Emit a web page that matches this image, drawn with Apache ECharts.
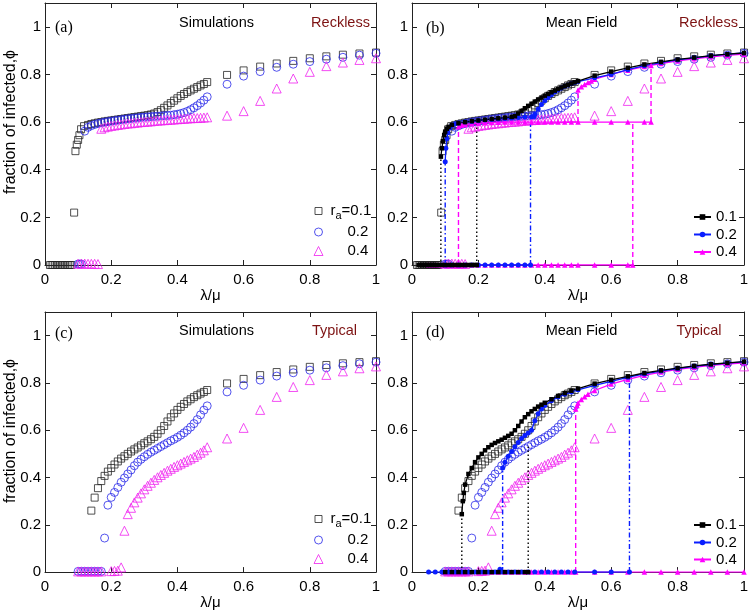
<!DOCTYPE html>
<html><head><meta charset="utf-8">
<script src="https://cdn.jsdelivr.net/npm/echarts@6/dist/echarts.min.js"></script>
<style>html,body{margin:0;padding:0;background:#fff}#c{width:752px;height:611px}</style>
</head><body><div id="c"></div>
<script>
// ---------------- DATA ----------------
// Simulations, Reckless (panels a, b)
const simR1 = [[0.015,0],[0.02,0],[0.025,0],[0.03,0],[0.035,0],[0.04,0],[0.045,0],[0.05,0],[0.055,0],[0.06,0],[0.065,0],[0.07,0],[0.075,0],[0.08,0],
 [0.088,0.22],[0.092,0.478],[0.096,0.505],[0.1,0.525],[0.104,0.545],[0.109,0.57],[0.118,0.583],[0.13,0.588],[0.14,0.592],[0.15,0.595],[0.16,0.598],[0.17,0.6],[0.18,0.603],[0.19,0.605],[0.2,0.607],[0.21,0.609],[0.22,0.611],[0.23,0.613],[0.24,0.615],[0.25,0.617],[0.26,0.619],[0.27,0.621],[0.28,0.623],[0.29,0.625],[0.3,0.627],[0.31,0.629],[0.32,0.632],[0.33,0.636],[0.34,0.642],[0.35,0.65],[0.36,0.66],[0.37,0.67],[0.38,0.68],[0.39,0.69],[0.4,0.7],[0.41,0.71],[0.42,0.718],[0.43,0.726],[0.44,0.733],[0.45,0.74],[0.46,0.747],[0.47,0.754],[0.48,0.76],[0.49,0.768],
 [0.55,0.798],[0.6,0.817],[0.65,0.833],[0.7,0.846],[0.75,0.857],[0.8,0.868],[0.85,0.876],[0.9,0.883],[0.95,0.888],[1.0,0.892]];
const simR2 = [[0.1,0.004],[0.105,0.004],[0.11,0.004],
 [0.12,0.562],[0.13,0.578],[0.14,0.585],[0.15,0.59],[0.16,0.594],[0.17,0.597],[0.18,0.6],[0.19,0.602],[0.2,0.604],[0.21,0.606],[0.22,0.608],[0.23,0.61],[0.24,0.612],[0.25,0.614],[0.26,0.615],[0.27,0.617],[0.28,0.618],[0.29,0.62],[0.3,0.621],[0.31,0.622],[0.32,0.623],[0.33,0.624],[0.34,0.625],[0.35,0.626],[0.36,0.627],[0.37,0.628],[0.38,0.629],[0.39,0.631],[0.4,0.633],[0.41,0.636],[0.42,0.64],[0.43,0.645],[0.44,0.652],[0.45,0.66],[0.46,0.669],[0.47,0.68],[0.48,0.692],[0.49,0.706],
 [0.55,0.759],[0.6,0.793],[0.65,0.812],[0.7,0.83],[0.75,0.843],[0.8,0.854],[0.85,0.864],[0.9,0.872],[0.95,0.881],[1.0,0.889]];
const simR3 = [[0.1,0.005],[0.11,0.006],[0.12,0.006],[0.13,0.005],[0.14,0.005],[0.15,0.005],[0.16,0.004],
 [0.17,0.572],[0.18,0.578],[0.19,0.581],[0.2,0.584],[0.21,0.586],[0.22,0.588],[0.23,0.59],[0.24,0.592],[0.25,0.594],[0.26,0.595],[0.27,0.597],[0.28,0.598],[0.29,0.6],[0.3,0.601],[0.31,0.602],[0.32,0.603],[0.33,0.605],[0.34,0.606],[0.35,0.607],[0.36,0.608],[0.37,0.609],[0.38,0.61],[0.39,0.611],[0.4,0.612],[0.41,0.613],[0.42,0.614],[0.43,0.615],[0.44,0.616],[0.45,0.617],[0.46,0.617],[0.47,0.618],[0.48,0.619],[0.49,0.62],
 [0.55,0.627],[0.6,0.646],[0.65,0.689],[0.7,0.741],[0.75,0.783],[0.8,0.811],[0.85,0.835],[0.9,0.85],[0.95,0.861],[1.0,0.868]];

// Simulations, Typical (panels c, d)
const simT1 = [[0.14,0.26],[0.15,0.315],[0.16,0.355],[0.17,0.385],[0.18,0.407],[0.19,0.425],[0.2,0.44],[0.21,0.455],[0.22,0.468],[0.23,0.48],[0.24,0.49],[0.25,0.5],[0.26,0.51],[0.27,0.519],[0.28,0.527],[0.29,0.536],[0.3,0.545],[0.31,0.553],[0.32,0.562],[0.33,0.572],[0.34,0.585],[0.35,0.6],[0.36,0.618],[0.37,0.637],[0.38,0.655],[0.39,0.671],[0.4,0.686],[0.41,0.699],[0.42,0.711],[0.43,0.722],[0.44,0.731],[0.45,0.74],[0.46,0.748],[0.47,0.755],[0.48,0.762],[0.49,0.77],
 [0.55,0.798],[0.6,0.817],[0.65,0.833],[0.7,0.846],[0.75,0.857],[0.8,0.868],[0.85,0.876],[0.9,0.883],[0.95,0.888],[1.0,0.892]];
const simT2 = [[0.1,0.003],[0.11,0.003],[0.12,0.003],[0.13,0.003],[0.14,0.003],[0.15,0.003],[0.16,0.003],[0.17,0.003],
 [0.18,0.144],[0.19,0.283],[0.2,0.316],[0.21,0.337],[0.22,0.358],[0.23,0.38],[0.24,0.398],[0.25,0.415],[0.26,0.432],[0.27,0.45],[0.28,0.465],[0.29,0.477],[0.3,0.488],[0.31,0.498],[0.32,0.507],[0.33,0.515],[0.34,0.523],[0.35,0.531],[0.36,0.539],[0.37,0.547],[0.38,0.555],[0.39,0.562],[0.4,0.57],[0.41,0.579],[0.42,0.589],[0.43,0.6],[0.44,0.613],[0.45,0.628],[0.46,0.645],[0.47,0.665],[0.48,0.685],[0.49,0.703],
 [0.55,0.762],[0.6,0.79],[0.65,0.812],[0.7,0.829],[0.75,0.843],[0.8,0.854],[0.85,0.864],[0.9,0.873],[0.95,0.881],[1.0,0.888]];
const simT3 = [[0.1,0.003],[0.11,0.003],[0.12,0.003],[0.13,0.003],[0.14,0.003],[0.15,0.003],[0.16,0.003],[0.17,0.003],[0.2,0.004],[0.21,0.005],[0.22,0.006],[0.23,0.02],
 [0.24,0.175],[0.25,0.245],[0.26,0.272],[0.27,0.295],[0.28,0.315],[0.29,0.333],[0.3,0.35],[0.31,0.365],[0.32,0.378],[0.33,0.39],[0.34,0.401],[0.35,0.411],[0.36,0.42],[0.37,0.429],[0.38,0.437],[0.39,0.445],[0.4,0.452],[0.41,0.459],[0.42,0.466],[0.43,0.473],[0.44,0.48],[0.45,0.487],[0.46,0.497],[0.47,0.505],[0.48,0.515],[0.49,0.528],
 [0.55,0.565],[0.6,0.61],[0.65,0.686],[0.7,0.741],[0.75,0.783],[0.8,0.812],[0.85,0.834],[0.9,0.849],[0.95,0.862],[1.0,0.87]];

// Mean field, Reckless (panel b)
const mfR1Low = [[0.02,0],[0.025,0],[0.03,0],[0.035,0],[0.04,0],[0.045,0],[0.05,0],[0.055,0],[0.06,0],[0.065,0],[0.07,0],[0.075,0],[0.08,0],[0.09,0],[0.1,0],[0.11,0],[0.12,0],[0.13,0],[0.14,0],[0.15,0],[0.16,0],[0.17,0],[0.18,0],[0.19,0],[0.195,0]];
const mfR1Up = [[0.087,0.455],[0.09,0.49],[0.093,0.52],[0.097,0.545],[0.1,0.56],[0.105,0.572],[0.11,0.58],[0.12,0.588],[0.14,0.595],[0.16,0.6],[0.18,0.604],[0.2,0.607],[0.22,0.61],[0.24,0.613],[0.26,0.616],[0.28,0.619],[0.3,0.622],[0.31,0.625],[0.32,0.636],[0.33,0.647],[0.34,0.658],[0.35,0.668],[0.36,0.677],[0.37,0.686],[0.38,0.695],[0.39,0.703],[0.4,0.711],[0.41,0.718],[0.42,0.725],[0.43,0.732],[0.44,0.739],[0.45,0.745],[0.46,0.751],[0.47,0.757],[0.48,0.762],[0.49,0.767],[0.5,0.772],[0.55,0.795],[0.6,0.812],[0.65,0.828],[0.7,0.842],[0.75,0.853],[0.8,0.863],[0.85,0.871],[0.9,0.879],[0.95,0.885],[1.0,0.89]];
const mfR2Low = [[0.1,0],[0.12,0],[0.14,0],[0.16,0],[0.18,0],[0.2,0],[0.22,0],[0.24,0],[0.26,0],[0.28,0],[0.3,0],[0.32,0],[0.34,0],[0.357,0]];
const mfR2Up = [[0.1,0.434],[0.102,0.49],[0.105,0.53],[0.108,0.555],[0.112,0.574],[0.12,0.587],[0.13,0.593],[0.14,0.596],[0.16,0.6],[0.18,0.603],[0.2,0.606],[0.22,0.609],[0.24,0.611],[0.26,0.613],[0.28,0.615],[0.3,0.617],[0.32,0.619],[0.34,0.621],[0.36,0.622],[0.368,0.623],[0.37,0.633],[0.38,0.655],[0.39,0.674],[0.4,0.69],[0.41,0.703],[0.42,0.715],[0.43,0.726],[0.44,0.735],[0.45,0.743],[0.46,0.75],[0.47,0.756],[0.48,0.762],[0.49,0.766],[0.5,0.77],[0.55,0.786],[0.6,0.8],[0.65,0.82],[0.7,0.837],[0.75,0.85],[0.8,0.861],[0.85,0.87],[0.9,0.878],[0.95,0.885],[1.0,0.89]];
const mfR3Low = [[0.05,0],[0.06,0],[0.07,0],[0.08,0],[0.09,0],[0.1,0],[0.11,0],[0.12,0],[0.13,0],[0.14,0],[0.15,0],[0.16,0],[0.18,0],[0.2,0],[0.22,0],[0.24,0],[0.26,0],[0.28,0],[0.3,0],[0.32,0],[0.34,0],[0.36,0],[0.38,0],[0.4,0],[0.42,0],[0.44,0],[0.46,0],[0.48,0],[0.5,0],[0.55,0],[0.6,0],[0.65,0],[0.665,0]];
const mfR3Mid = [[0.14,0.58],[0.15,0.587],[0.16,0.59],[0.18,0.593],[0.2,0.595],[0.22,0.597],[0.24,0.598],[0.26,0.599],[0.28,0.6],[0.3,0.6],[0.32,0.6],[0.34,0.6],[0.36,0.6],[0.38,0.6],[0.4,0.6],[0.42,0.6],[0.44,0.6],[0.46,0.6],[0.48,0.6],[0.5,0.6],[0.55,0.6],[0.6,0.6],[0.65,0.6],[0.7,0.6],[0.72,0.6]];
const mfR3Up = [[0.5,0.735],[0.51,0.748],[0.52,0.758],[0.53,0.766],[0.54,0.773],[0.55,0.78],[0.6,0.8],[0.65,0.818],[0.7,0.833],[0.72,0.838],[0.75,0.846],[0.8,0.857],[0.85,0.866],[0.9,0.874],[0.95,0.88],[1.0,0.885]];
// transitions [x, yFrom, yTo]
const mfR1Jumps = [[0.087,0,0.455],[0.195,0,0.6]];
const mfR2Jumps = [[0.1,0,0.434],[0.357,0,0.6]];
const mfR3Jumps = [[0.14,0,0.58],[0.665,0,0.6],[0.5,0.6,0.735],[0.72,0.6,0.84]];

// Mean field, Typical (panel d)
const mfT1Low = [[0.1,0],[0.12,0],[0.14,0],[0.16,0],[0.18,0],[0.2,0],[0.22,0],[0.24,0],[0.26,0],[0.28,0],[0.3,0],[0.32,0],[0.34,0],[0.35,0]];
const mfT1Up = [[0.15,0.245],[0.153,0.3],[0.156,0.335],[0.16,0.37],[0.17,0.415],[0.18,0.44],[0.19,0.465],[0.2,0.485],[0.21,0.5],[0.22,0.515],[0.23,0.528],[0.24,0.538],[0.25,0.546],[0.26,0.553],[0.27,0.56],[0.28,0.568],[0.29,0.576],[0.3,0.585],[0.31,0.6],[0.32,0.618],[0.33,0.637],[0.34,0.655],[0.35,0.668],[0.36,0.68],[0.37,0.69],[0.38,0.7],[0.39,0.708],[0.4,0.716],[0.42,0.731],[0.44,0.745],[0.46,0.757],[0.48,0.767],[0.5,0.776],[0.55,0.797],[0.6,0.813],[0.65,0.828],[0.7,0.842],[0.75,0.853],[0.8,0.863],[0.85,0.872],[0.9,0.879],[0.95,0.885],[1.0,0.89]];
const mfT2Low = [[0.05,0],[0.07,0],[0.09,0],[0.11,0],[0.13,0],[0.15,0],[0.17,0],[0.19,0],[0.21,0],[0.23,0],[0.25,0],[0.265,0.012],[0.27,0],[0.29,0],[0.31,0],[0.33,0],[0.35,0],[0.37,0],[0.39,0],[0.41,0],[0.43,0],[0.45,0],[0.47,0],[0.49,0],[0.55,0],[0.6,0],[0.655,0]];
const mfT2Up = [[0.273,0.44],[0.28,0.465],[0.29,0.49],[0.3,0.51],[0.31,0.53],[0.32,0.548],[0.33,0.565],[0.34,0.578],[0.35,0.588],[0.36,0.6],[0.37,0.64],[0.38,0.67],[0.39,0.69],[0.4,0.705],[0.42,0.725],[0.44,0.74],[0.46,0.752],[0.48,0.762],[0.5,0.771],[0.55,0.79],[0.6,0.807],[0.65,0.824],[0.7,0.838],[0.75,0.85],[0.8,0.861],[0.85,0.87],[0.9,0.878],[0.95,0.884],[1.0,0.889]];
const mfT3Low = [[0.1,0],[0.11,0],[0.12,0],[0.13,0],[0.14,0],[0.15,0],[0.16,0],[0.17,0],[0.2,0],[0.22,0],[0.24,0],[0.26,0],[0.28,0],[0.3,0],[0.32,0],[0.34,0],[0.36,0],[0.38,0],[0.4,0],[0.42,0],[0.44,0],[0.46,0],[0.48,0],[0.493,0],[0.55,0],[0.6,0],[0.65,0],[0.7,0],[0.75,0],[0.8,0],[0.85,0],[0.9,0],[0.95,0],[1.0,0]];
const mfT3Up = [[0.493,0.69],[0.497,0.705],[0.5,0.715],[0.51,0.73],[0.52,0.742],[0.53,0.752],[0.55,0.768],[0.6,0.795],[0.65,0.815],[0.7,0.832],[0.75,0.846],[0.8,0.857],[0.85,0.866],[0.9,0.874],[0.95,0.88],[1.0,0.885]];
const mfT1Jumps = [[0.15,0,0.245],[0.35,0,0.53]];
const mfT2Jumps = [[0.273,0,0.44],[0.655,0,0.82]];
const mfT3Jumps = [[0.493,0,0.69]];

// legend labels
const ratesLabels = ['0.1','0.2','0.4'];

// ---------------- STYLE ----------------
const FONT = '"Liberation Sans", Arial, Helvetica, sans-serif';
const C = {k:'#000000', b:'#0a1eff', m:'#ff00ff'};
const SIM = {
  sq:{symbol:'rect', size:7, color:'#262626'},
  ci:{symbol:'circle', size:8, color:'#2828e8'},
  tr:{symbol:'triangle', size:9, color:'#f020f0'}
};
const MF = {
  k:{symbol:'rect', size:4.5, color:C.k},
  b:{symbol:'circle', size:5, color:C.b},
  m:{symbol:'triangle', size:5.5, color:C.m}
};
const DASH = {k:[1.5,2.5], b:[5,2.5,1.5,2.5], m:[5,3]};

const grids = [
  {left:45, top:3, width:331, height:262},
  {left:412, top:3, width:332, height:262},
  {left:45, top:312, width:331, height:261},
  {left:412, top:312, width:332, height:261}
];

const xAxes = [], yAxes = [];
grids.forEach((g,i)=>{
  const common = {type:'value', gridIndex:i, splitLine:{show:false},
    axisLine:{show:true, onZero:false, lineStyle:{color:'#222', width:1}},
    axisTick:{show:true, inside:true, length:5, lineStyle:{color:'#222'}}};
  xAxes.push(Object.assign({}, common, {min:0, max:1, interval:0.2, position:'bottom',
    axisLabel:{color:'#000', fontSize:15, fontFamily:FONT, margin:7},
    name:'λ/μ', nameLocation:'middle', nameGap:14,
    nameTextStyle:{color:'#000', fontSize:15, fontFamily:FONT}}));
  xAxes.push(Object.assign({}, common, {min:0, max:1, interval:0.2, position:'top', axisLabel:{show:false}}));
  yAxes.push(Object.assign({}, common, {min:0, max:1.1, interval:0.2, position:'left',
    axisLabel:{color:'#000', fontSize:15, fontFamily:FONT, margin:4, showMaxLabel:false}}));
  yAxes.push(Object.assign({}, common, {min:0, max:1.1, interval:0.2, position:'right', axisLabel:{show:false}}));
});

const series = [];
function simS(name, data, gi, kind){
  const k = SIM[kind];
  series.push({type:'scatter', name, data, xAxisIndex:gi*2, yAxisIndex:gi*2,
    symbol:k.symbol, symbolSize:k.size, silent:true, z:2,
    itemStyle:{color:'rgba(255,255,255,0)', borderColor:k.color, borderWidth:1}});
}
function mfS(name, data, gi, kind){
  const k = MF[kind];
  series.push({type:'line', name, data, xAxisIndex:gi*2, yAxisIndex:gi*2,
    symbol:k.symbol, symbolSize:k.size, showSymbol:true, silent:true, z:4,
    lineStyle:{color:k.color, width:1.3}, itemStyle:{color:k.color}});
}
function jumpS(name, arr, gi, kind){
  arr.forEach((j,idx)=>{
    series.push({type:'line', name:name+idx, data:[[j[0],j[1]],[j[0],j[2]]],
      xAxisIndex:gi*2, yAxisIndex:gi*2, symbol:'none', silent:true, z:3,
      lineStyle:{color:C[kind], width:1.4, type:DASH[kind]}});
  });
}
// panel a
simS('sRa1', simR1, 0, 'sq'); simS('sRa2', simR2, 0, 'ci'); simS('sRa3', simR3, 0, 'tr');
// panel b
simS('sRb1', simR1, 1, 'sq'); simS('sRb2', simR2, 1, 'ci'); simS('sRb3', simR3, 1, 'tr');
jumpS('jR1', mfR1Jumps, 1, 'k'); jumpS('jR2', mfR2Jumps, 1, 'b'); jumpS('jR3', mfR3Jumps, 1, 'm');
mfS('mR3low', mfR3Low, 1, 'm'); mfS('mR2low', mfR2Low, 1, 'b'); mfS('mR1low', mfR1Low, 1, 'k');
mfS('mR3mid', mfR3Mid, 1, 'm');
mfS('mR3', mfR3Up, 1, 'm'); mfS('mR2', mfR2Up, 1, 'b'); mfS('mR1', mfR1Up, 1, 'k');
// panel c
simS('sTc1', simT1, 2, 'sq'); simS('sTc2', simT2, 2, 'ci'); simS('sTc3', simT3, 2, 'tr');
// panel d
simS('sTd1', simT1, 3, 'sq'); simS('sTd2', simT2, 3, 'ci'); simS('sTd3', simT3, 3, 'tr');
jumpS('jT1', mfT1Jumps, 3, 'k'); jumpS('jT2', mfT2Jumps, 3, 'b'); jumpS('jT3', mfT3Jumps, 3, 'm');
mfS('mT3low', mfT3Low, 3, 'm'); mfS('mT2low', mfT2Low, 3, 'b'); mfS('mT1low', mfT1Low, 3, 'k');
mfS('mT3', mfT3Up, 3, 'm'); mfS('mT2', mfT2Up, 3, 'b'); mfS('mT1', mfT1Up, 3, 'k');

// legends: one per row
const legends = [];
const txt = {color:'#000', fontSize:15, fontFamily:FONT, lineHeight:15};
function simLegend(names, ys){
  const iconSize = [7,8,9];
  names.forEach((n,i)=>{
    const s = iconSize[i];
    const first = i===0;
    legends.push({data:[n], orient:'vertical', left:318 - s/2, top: ys[i] - (first?10.5:7.5),
      padding:0, itemWidth:s, itemHeight:s, itemGap:0, selectedMode:false,
      itemStyle:{borderWidth:1},
      formatter: first ? '{t|r}{s|a}{t|=' + ratesLabels[0] + '}' : '{t|' + ratesLabels[i] + '}',
      textStyle: Object.assign({}, txt, {
        padding: first ? [0,0,0,330 - (318 + s/2) - 5] : [0,0,0, 347 - (318 + s/2) - 5],
        rich: {t:{fontSize:15, fontFamily:FONT, color:'#000', lineHeight:15, verticalAlign:'top'},
               s:{fontSize:11, fontFamily:FONT, color:'#000', lineHeight:11, padding:[10,0,0,0]}}})});
  });
}
simLegend(['sRa1','sRa2','sRa3'], [211,232,251]);
simLegend(['sTc1','sTc2','sTc3'], [519,540,559]);
function mfLegend(names, ys){
  names.forEach((n,i)=>{
    legends.push({data:[n], orient:'vertical', left:693, top: ys[i]-7.5, padding:0,
      itemWidth:17, itemHeight:7, itemGap:0, selectedMode:false,
      formatter: ratesLabels[i], textStyle: Object.assign({}, txt)});
  });
}
mfLegend(['mR1','mR2','mR3'], [217,234.5,252]);
mfLegend(['mT1','mT2','mT3'], [525,542.5,559.5]);

// annotation texts
const RED = '#7d1212';
function T(text, x, y, opt){
  return {type:'text', x, y, silent:true, style:Object.assign({text, fill:'#000', font:'14.5px ' + FONT, textAlign:'center', textVerticalAlign:'middle'}, opt||{})};
}
const SERIF = '16px "Liberation Serif", "DejaVu Serif", serif';
const graphics = [
  T('(a)', 55, 27.5, {font:SERIF, textAlign:'left'}),
  T('Simulations', 216.5, 22.5),
  T('Reckless', 340.5, 22.5, {fill:RED}),
  T('(b)', 426, 29, {font:SERIF, textAlign:'left'}),
  T('Mean Field', 581.5, 23),
  T('Reckless', 708.5, 23, {fill:RED}),
  T('(c)', 55, 334, {font:SERIF, textAlign:'left'}),
  T('Simulations', 216.5, 331),
  T('Typical', 334.5, 331, {fill:RED}),
  T('(d)', 426, 332.5, {font:SERIF, textAlign:'left'}),
  T('Mean Field', 581.5, 331),
  T('Typical', 699, 331, {fill:RED}),
  Object.assign(T('fraction of infected,ϕ', 11, 122, {font:'16px ' + FONT}), {rotation:Math.PI/2}),
  Object.assign(T('fraction of infected,ϕ', 11, 431, {font:'16px ' + FONT}), {rotation:Math.PI/2})
];

const chart = echarts.init(document.getElementById('c'), null, {renderer:'canvas'});
chart.setOption({
  animation:false,
  backgroundColor:'#ffffff',
  grid:grids, xAxis:xAxes, yAxis:yAxes,
  legend:legends, series, graphic:graphics
});
</script></body></html>
